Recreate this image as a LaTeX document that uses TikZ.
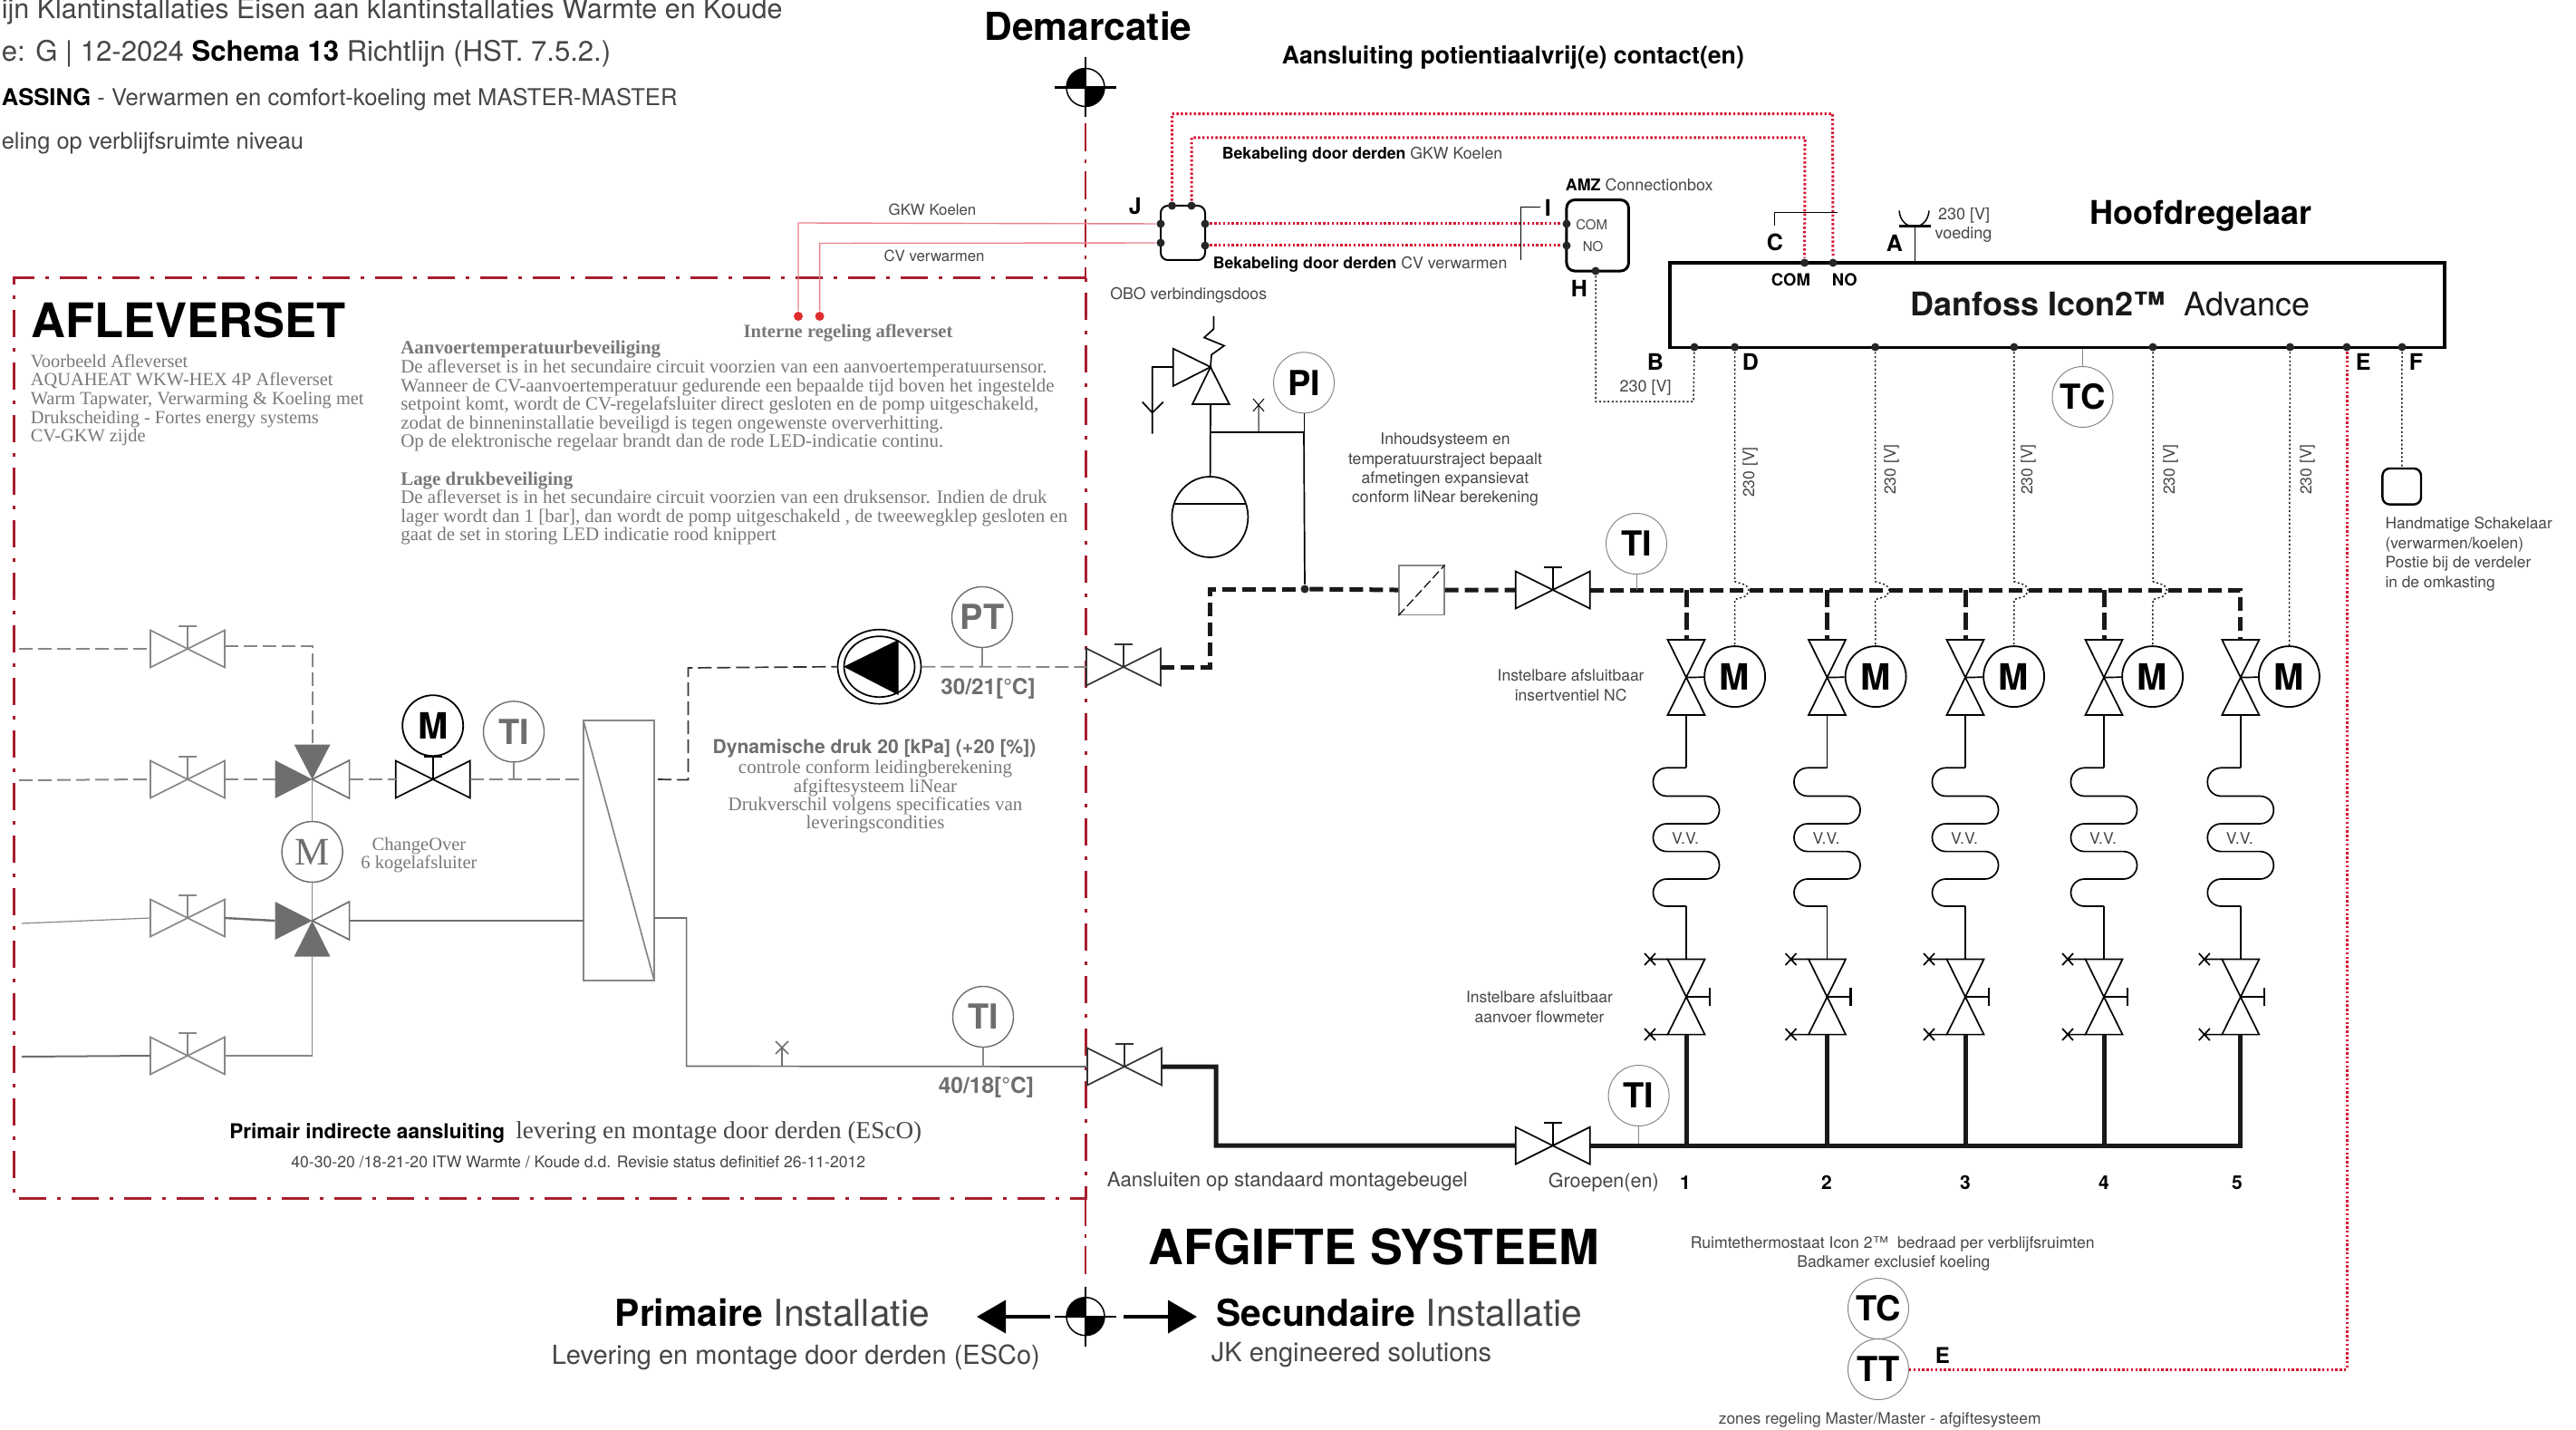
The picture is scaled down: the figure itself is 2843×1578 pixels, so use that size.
\documentclass[tikz,border=0pt]{standalone}
\usepackage{fontspec}
\setmainfont{TeX Gyre Heros}
\newfontfamily\slab{Liberation Serif}
\usepackage{tikz}
\usetikzlibrary{calc}
\usetikzlibrary{positioning}
\usetikzlibrary{arrows.meta}
\usetikzlibrary{shapes.geometric}

\definecolor{afGray}{RGB}{109,110,112}
\definecolor{afLine}{RGB}{135,135,137}
\definecolor{afText}{RGB}{120,120,122}
\definecolor{capText}{RGB}{70,70,72}
\definecolor{demarcRed}{RGB}{166,30,46}
\definecolor{wireRed}{RGB}{214,20,50}
\definecolor{pinkLine}{RGB}{232,130,140}
\definecolor{ledRed}{RGB}{222,45,45}
\newcommand{\fsz}[2]{\fontsize{#1}{#2}\selectfont}

\tikzset{
  valveh/.pic={
    \draw (-41,-20.5) -- (41,20.5) -- (41,-20.5) -- (-41,20.5) -- cycle;
    \draw (0,0) -- (0,-25) (-10,-25) -- (10,-25);
    \coordinate (-w) at (-41,0);
    \coordinate (-e) at (41,0);
  },
  changeover/.pic={
    \fill (-41,-21) -- (0,0) -- (-41,21) -- cycle;
    \draw (41,-21) -- (0,0) -- (41,21) -- cycle;
    \coordinate (-w) at (-41,0);
    \coordinate (-e) at (41,0);
  },
  demarc/.pic={
    \begin{scope}
      \clip (0,0) circle (21pt);
      \fill (-21,-21) rectangle (0,0);
      \fill (0,0) rectangle (21,21);
    \end{scope}
    \draw[line width=1.5pt] (0,0) circle (21pt);
    \draw[line width=1.2pt] (0,-33) -- (0,33);
    \draw[line width=2.4pt] (-34,0) -- (34,0);
    \coordinate (-n) at (0,-40);
    \coordinate (-s) at (0,40);
  },
  groep/.pic={
    \draw (-20.5,706) -- (20.5,706) -- (-20.5,789) -- (20.5,789) -- cycle;
    \node[circle,draw,line width=1.8pt,minimum size=67pt,inner sep=0pt,font=\bfseries\fsz{40}{40}] (-M) at (53.6,746.6) {M};
    \draw (0,747.6) -- (-M);
    \draw (0,789) -- (0,847.3) (0,1000) -- (0,1058.5);
    \draw[rounded corners=15pt] (0,847.3) -- (-36.5,847.3) -- (-36.5,878.5) -- (36.5,878.5) -- (36.5,909)
      -- (-36.5,909) -- (-36.5,939.6) -- (36.5,939.6) -- (36.5,970) -- (-36.5,970) -- (-36.5,1000) -- (0,1000);
    \node[inner sep=0pt,anchor=base,text=capText,font=\fsz{17.5}{18}] (-vv) at (-1,931.7) {V.V.};
    \draw (-20.5,1058.5) -- (20.5,1058.5) -- (-20.5,1141.6) -- (20.5,1141.6) -- cycle;
    \draw[line width=2.2pt] (0,1100) -- (26,1100) (26,1090) -- (26,1110);
    \draw (-20.5,1058.5) -- (-40,1058.5) (-46,1052) -- (-34,1065) (-46,1065) -- (-34,1052);
    \draw (-20.5,1141.6) -- (-40,1141.6) (-46,1135) -- (-34,1148) (-46,1148) -- (-34,1135);
    \coordinate (-top) at (0,706);
    \coordinate (-bot) at (0,1141.6);
  }
}

\newcommand{\kabel}[2]{\draw[wire] (#1) -- (#1 |- 0,641.7) -- ++(12.5,4) -- ++(3,6) -- ++(-3,6) -- ++(-12.5,4) -- (#2);}

\begin{document}
\begin{tikzpicture}[x=1pt,y=-1pt,line width=1.7pt]
  \tikzstyle{lbl}=[inner sep=0pt,anchor=base west,text=capText]
  \tikzstyle{lblc}=[lbl,anchor=base]
  \tikzstyle{lble}=[lbl,anchor=base east]
  \tikzstyle{kop}=[lbl,text=black,font=\bfseries\fsz{25}{25}]
  \tikzstyle{slabtxt}=[lbl,text=afText,align=left,font=\slab\fsz{20.9}{20.6}]
  \tikzstyle{instr}=[circle,draw=afLine,line width=1pt,minimum size=67pt,inner sep=0pt,text=black,font=\bfseries\fsz{38}{38}]
  \tikzstyle{motor}=[circle,draw,line width=1.8pt,minimum size=67pt,inner sep=0pt,font=\bfseries\fsz{40}{40}]
  \tikzstyle{dot}=[circle,fill=black!85,inner sep=0pt,minimum size=9pt]
  \tikzstyle{reddot}=[circle,fill=ledRed,inner sep=0pt,minimum size=10pt]
  \tikzstyle{gdash}=[afLine,line width=2pt,dash pattern=on 15pt off 6pt]
  \tikzstyle{supply}=[black!90,line width=5pt,dash pattern=on 15pt off 7pt]
  \tikzstyle{supplyv}=[black!90,line width=5pt,dash pattern=on 19pt off 6pt]
  \tikzstyle{ret}=[black!90,line width=5pt]
  \tikzstyle{wire}=[line width=1.5pt,black!90,dash pattern=on 2pt off 2.6pt]
  \tikzstyle{redwire}=[line width=3pt,wireRed,dash pattern=on 2.4pt off 2.4pt]
  \tikzstyle{pink}=[line width=1.4pt,pinkLine]
  \tikzstyle{demarcline}=[demarcRed,line width=3pt,dash pattern=on 30pt off 12pt on 4pt off 12pt]
  \tikzstyle{demarcthin}=[demarcRed,line width=2pt,dash pattern=on 31pt off 9pt on 4pt off 9pt]
  \useasboundingbox (0,0) rectangle (2843,1578);

  % header lines
  \node[lbl,font=\fsz{30.5}{30.5}] (hdrA) at (1,21)  {ijn Klantinstallaties Eisen aan klantinstallaties Warmte en Koude};
  \node[lbl,font=\fsz{31.1}{31.1}] (hdrB) at (1,68)  {e: G | 12-2024 {\bfseries\color{black}Schema 13} Richtlijn (HST. 7.5.2.)};
  \node[lbl,font=\fsz{25.6}{25.6}] (hdrC) at (1,117) {{\bfseries\color{black}ASSING} - Verwarmen en comfort-koeling met MASTER-MASTER};
  \node[lbl,font=\fsz{25.4}{25.4}] (hdrD) at (1,165) {eling op verblijfsruimte niveau};

  % demarcation and the set frame
  \pic (dTop) at (1198,96.5) {demarc};
  \pic (dBot) at (1198,1452.7) {demarc};
  \coordinate (boxTL) at (15,307);
  \coordinate (boxTR) at (1198,307);
  \coordinate (boxBL) at (15,1322);
  \coordinate (boxBR) at (1198,1322);
  \draw[demarcthin] (dTop-s) -- (boxTR);
  \draw[demarcline] (boxTR) -- (boxTL) -- (boxBL) -- (boxBR) -- (boxTR);
  \draw[demarcthin] (boxBR) -- (dBot-n);
  \node[lblc,text=black,font=\bfseries\fsz{42.5}{42}] (demarcTxt) at (1201,44.5) {Demarcatie};
  \node[lbl,text=black,font=\bfseries\fsz{26.7}{27}] (aansl) at (1414,71) {Aansluiting potientiaalvrij(e) contact(en)};

  % set texts
  \node[lbl,text=black,font=\bfseries\fsz{52.5}{52.5}] (afl) at (34,372.5) {AFLEVERSET};
  \node[slabtxt,anchor=north west,font=\slab\fsz{20.4}{20.6}] (aflSub) at (33,390) {Voorbeeld Afleverset\\AQUAHEAT WKW-HEX 4P Afleverset\\Warm Tapwater, Verwarming \& Koeling met\\Drukscheiding - Fortes energy systems\\CV-GKW zijde};
  \node[slabtxt,anchor=north west] (prot) at (441.5,375.5) {{\bfseries Aanvoertemperatuurbeveiliging}\\De afleverset is in het secundaire circuit voorzien van een aanvoertemperatuursensor.\\Wanneer de CV-aanvoertemperatuur gedurende een bepaalde tijd boven het ingestelde\\setpoint komt, wordt de CV-regelafsluiter direct gesloten en de pomp uitgeschakeld,\\zodat de binneninstallatie beveiligd is tegen ongewenste oververhitting.\\Op de elektronische regelaar brandt dan de rode LED-indicatie continu.\\[20.6pt]{\bfseries Lage drukbeveiliging}\\De afleverset is in het secundaire circuit voorzien van een druksensor. Indien de druk\\lager wordt dan 1 [bar], dan wordt de pomp uitgeschakeld , de tweewegklep gesloten en\\gaat de set in storing LED indicatie rood knippert};
  \node[lblc,text=afText,font=\slab\bfseries\fsz{20.6}{20.6}] (intern) at (936,372.5) {Interne regeling afleverset};
  \node[reddot] (rGkw) at (881,349) {};
  \node[reddot] (rCv)  at (904.6,349) {};

  % left side of the set, grey
  \begin{scope}[afLine]
    \pic (v1) at (207,716)  {valveh};
    \pic (v2) at (207,860)  {valveh};
    \pic (v3) at (207,1013) {valveh};
    \pic (v4) at (207,1165) {valveh};
  \end{scope}
  \begin{scope}[afGray]
    \pic (co1) at (344.6,860)  {changeover};
    \pic (co2) at (344.6,1016) {changeover};
    \fill (344.6,860) -- ++(-20,-38.5) -- ++(40,0) -- cycle;
    \fill (344.6,1016) -- ++(-20,39.7) -- ++(40,0) -- cycle;
  \end{scope}
  \coordinate (in1) at (21,716);
  \coordinate (in2) at (21,861);
  \coordinate (in3) at (24,1019);
  \coordinate (in4) at (24,1166);
  \draw[gdash] (in1) -- (v1-w);
  \draw[gdash] (v1-e) ++(0,-3.5) -- (344.6,712.5) -- (344.6,821);
  \draw[gdash] (in2) -- (v2-w);
  \draw[gdash] (v2-e) -- (co1-w);
  \draw[afLine,line width=1.2pt] (in3) -- (v3-w);
  \draw[afGray,line width=2.4pt] (v3-e) -- (co2-w);
  \draw[afGray,line width=2pt] (in4) -- (v4-w);
  \draw[afLine] (v4-e) -- (344.6,1165) -- (344.6,1055);
  \node[circle,draw=afGray,line width=1.5pt,minimum size=67pt,inner sep=0pt,text=afGray,font=\slab\fsz{43}{43}] (mco) at (344.6,940) {M};
  \draw[afLine] (co1-e -| mco) -- (mco) -- (co2-e -| mco);
  \node[lblc,text=afText,font=\slab\fsz{20.5}{20.5}] (coA) at (462.5,938) {ChangeOver};
  \node[lblc,text=afText,font=\slab\fsz{20.5}{20.5}] (coB) at (462.5,958) {6 kogelafsluiter};
  \pic (vm) at (477.7,860) {valveh};
  \node[motor,fill=white] (mvm) at (477.7,800.7) {M};
  \draw[line width=2pt] (mvm) -- (vm-e -| mvm);
  \node[instr,draw=afGray,text=afGray,line width=1.4pt] (tiL) at (567,807.4) {TI};
  \coordinate (hexTL) at (643.8,795);
  \coordinate (hexBR) at (722,1082);
  \draw[afLine] (hexTL) rectangle (hexBR);
  \draw[afLine] (hexTL) -- (hexBR);
  \draw[gdash] (co1-e) -- (vm-w);
  \draw[gdash] (vm-e) -- (hexTL |- vm-e);
  \draw[afLine,line width=1.4pt] (tiL) -- (tiL |- vm-e);
  \draw[afGray] (co2-e) -- (hexTL |- co2-e);

  % secondary side inside the frame
  \node[draw,ellipse,minimum width=92pt,minimum height=82pt,inner sep=0pt] (pump) at (970.5,735.7) {};
  \node[draw,ellipse,minimum width=78pt,minimum height=67pt,inner sep=0pt] (pumpIn) at (970.5,735.7) {};
  \fill (931,735.7) -- (991.5,706) -- (991.5,767) -- cycle;
  \draw[line width=1.7pt,dash pattern=on 15pt off 6pt,black!80] (hexBR |- vm-e) ++(4,0) -- (759.4,860.6) -- (759.4,737) -- (pump.west);
  \pic[black!80] (vA) at (1240,736) {valveh};
  \draw[gdash,line width=1.7pt] (pump.east) -- (vA-w);
  \node[instr,draw=afGray,text=afGray,line width=1.4pt] (ptL) at (1084,681) {PT};
  \draw[afLine,line width=1.4pt] (ptL) -- (ptL |- vA-w);
  \node[lbl,text=afGray,font=\bfseries\fsz{24.3}{25}] (t3021) at (1037.5,766) {30/21[°C]};
  \node[lblc,text=afGray,font=\bfseries\fsz{21.1}{22}] (dynA) at (965,831) {Dynamische druk 20 [kPa] (+20 [\%])};
  \node[slabtxt,anchor=north,align=center,font=\slab\fsz{21}{20.4}] (dynB) at (966,838) {controle conform leidingberekening\\afgiftesysteem liNear\\Drukverschil volgens specificaties van\\leveringscondities};
  \pic[black!80] (vB) at (1241,1177) {valveh};
  \draw[afGray] (hexBR |- 0,1013) -- (757.6,1013) -- (757.6,1176.5) -- (vB-w);
  \draw[afGray] (863,1176.5) -- (863,1156) (856,1149) -- (870,1163) (856,1163) -- (870,1149);
  \node[instr,draw=afGray,text=afGray,line width=1.4pt] (tiR) at (1085,1122) {TI};
  \draw[afLine,line width=1.4pt] (tiR) -- (tiR |- vB-w);
  \node[lbl,text=afGray,font=\bfseries\fsz{24.5}{25}] (t4018) at (1035,1206) {40/18[°C]};
  \node[lble,text=capText,font=\slab\fsz{27.2}{27}] (prim) at (1018,1256) {{\fontspec{TeX Gyre Heros}\bfseries\fsz{22.6}{26}\color{black}Primair indirecte aansluiting}\hspace{12pt}levering en montage door derden (EScO)};
  \node[lble,font=\fsz{17.6}{18}] (revisie) at (956,1288) {40-30-20 /18-21-20 ITW Warmte / Koude d.d. Revisie status definitief 26-11-2012};

  % connection box and cabling
  \node[draw,rounded corners=8pt,line width=2pt,minimum width=49pt,minimum height=60pt,inner sep=0pt] (jbox) at (1305.5,257) {};
  \node[draw,rounded corners=9pt,line width=3pt,minimum width=68.5pt,minimum height=78.5pt,inner sep=0pt] (amz) at (1763.2,259.8) {};
  \node[dot] (jA) at (1293.5,227) {};
  \node[dot] (jB) at (1315,227) {};
  \node[dot] (jL1) at (1281,247) {};
  \node[dot] (jL2) at (1281,268) {};
  \node[dot] (jR1) at (1330,247) {};
  \node[dot] (jR2) at (1330,271) {};
  \node[dot] (aC) at (1729,247) {};
  \node[dot] (aN) at (1729,271) {};
  \node[dot] (aH) at (1761,299) {};
  \node[draw,line width=3.2pt,minimum width=855pt,minimum height=93.5pt,inner sep=0pt] (icon) at (2270.5,336.7) {};
  \node[dot] (dCom) at (1991.6,290) {};
  \node[dot] (dNo)  at (2023,290) {};
  \draw[redwire] (jA) -- (1293.5,125.7) -- (2022.6,125.7) -- (dNo);
  \draw[redwire] (jB) -- (1315,152) -- (1992,152) -- (dCom);
  \draw[redwire] (jR1) -- (aC);
  \draw[redwire] (jR2) -- (aN);
  \draw[pink] (jL1) -- (881,246) -- (rGkw);
  \draw[pink] (jL2) -- (904.6,268.5) -- (rCv);
  \node[lblc,font=\fsz{16.8}{17}] (gkw) at (1029,238) {GKW Koelen};
  \node[lblc,font=\fsz{16.8}{17}] (cv)  at (1031,288.6) {CV verwarmen};
  \node[lbl,font=\fsz{17.7}{19}] (bekA) at (1348,176) {{\bfseries\color{black}Bekabeling door derden} GKW Koelen};
  \node[lbl,font=\fsz{17.7}{19}] (bekB) at (1338,296.5) {{\bfseries\color{black}Bekabeling door derden} CV verwarmen};
  \node[lbl,font=\fsz{17.9}{19}] (amzT) at (1727,211) {{\bfseries\color{black}AMZ} Connectionbox};
  \node[lbl,font=\fsz{15}{15}] (amzC) at (1738.4,254) {COM};
  \node[lbl,font=\fsz{15}{15}] (amzN) at (1746,278) {NO};
  \node[lbl,font=\fsz{17.7}{18}] (obo) at (1224.6,331) {OBO verbindingsdoos};
  \node[kop] (tJ) at (1245,236.5) {J};
  \node[kop] (tI) at (1704,238.4) {I};
  \draw[line width=1pt] (tI.west |- 0,228.5) ++(-4,0) -- (1678.7,228.5) -- (1678.7,286.7);
  \node[kop] (tH) at (1733,328) {H};
  \node[kop] (tC) at (1949,277) {C};
  \draw[line width=1pt] (1958,249) -- (1958,235) -- (2028,235);
  \node[kop] (tA) at (2081,278) {A};
  \node[kop] (tB) at (1817,408) {B};
  \node[kop] (tD) at (1922,408) {D};
  \node[kop] (tE) at (2599,408.4) {E};
  \node[kop] (tF) at (2658,408) {F};
  \node[lbl,text=black,font=\bfseries\fsz{18.5}{19}] (tCom) at (1954,316) {COM};
  \node[lbl,text=black,font=\bfseries\fsz{18.5}{19}] (tNo)  at (2021,316) {NO};
  \node[lblc,font=\fsz{18}{18}] (vA230) at (1816,432) {230 [V]};
  \node[lblc,font=\fsz{18}{18}] (vS230) at (2167.5,243) {230 [V]};
  \node[lblc,font=\fsz{18}{18}] (vSt)   at (2167,264) {voeding};
  \draw[line width=1.2pt] (2113.4,290) -- (2113.4,250);
  \draw[line width=3pt] (2096,250) -- (2131,250);
  \draw[line width=1.5pt] (2096,232.5) .. controls (2098,256) and (2127,256) .. (2129,232.5);
  \node[lbl,text=black,font=\bfseries\fsz{36}{36}] (hoofd) at (2306,247.5) {Hoofdregelaar};
  \node[lbl,text=black!90,font=\fsz{36}{36}] (danfoss) at (2108,349) {{\bfseries Danfoss Icon2™}\hspace{20pt}Advance};

  % fill side
  \coordinate (svTip) at (1336,405);
  \draw (svTip) -- (1294.7,384.7) -- (1294.7,426) -- cycle;
  \draw (svTip) -- (1316,446) -- (1356.7,446) -- cycle;
  \draw (svTip) -- (1337,391.5) -- (1351,381.5) -- (1329,372.5) -- (1339.5,363) -- (1339.5,349);
  \draw (1294.7,405) -- (1271.7,405) -- (1271.7,478.5) (1260.8,443.6) -- (1271.7,455.5) -- (1283.8,443.6);
  \node[draw,ellipse,minimum width=84pt,minimum height=89pt,inner sep=0pt] (vessel) at (1335.4,570.5) {};
  \draw (1295.6,556.3) -- (1375,556.3);
  \draw (1336,446) -- (vessel);
  \node[instr] (pi) at (1439,422.3) {PI};
  \node[dot] (dPipe) at (1440,650) {};
  \draw (1336,477) -- (1439,477) -- (dPipe);
  \draw[line width=1pt] (pi) -- (1439,477);
  \draw[line width=1pt] (1389,477) -- (1389,447) (1383,440) -- (1395,454) (1383,454) -- (1395,440);
  \node[lblc,align=center,anchor=north,font=\fsz{17.6}{21.4}] (inhoud) at (1595,477) {Inhoudsysteem en\\temperatuurstraject bepaalt\\afmetingen expansievat\\conform liNear berekening};

  % manifold
  \node[draw=afLine,line width=1.3pt,minimum width=50pt,minimum height=54.6pt,inner sep=0pt] (filter) at (1569,651.3) {};
  \draw[line width=1.2pt,dash pattern=on 10pt off 4pt] (filter.south west) -- (filter.north east);
  \pic (vD) at (1713.7,651) {valveh};
  \pic (vE) at (1713.7,1264.2) {valveh};
  \node[instr] (tiA) at (1806,600) {TI};
  \node[instr] (tiB) at (1808.6,1209) {TI};
  \pic (g1) at (1861,0)   {groep};
  \pic (g2) at (2016.5,0) {groep};
  \pic (g3) at (2169,0)   {groep};
  \pic (g4) at (2322,0)   {groep};
  \pic (g5) at (2472.8,0) {groep};
  \draw[supply] (vA-e) -- (1335,736) -- (1335,650) -- (dPipe);
  \draw[supply] (dPipe) -- (filter);
  \draw[supply] (filter) -- (vD-w);
  \draw[supply] (vD-e) -- (g5-top |- vD-e) -- (g5-top);
  \draw[supplyv] (g1-top |- vD-e) -- (g1-top);
  \draw[supplyv] (g2-top |- vD-e) -- (g2-top);
  \draw[supplyv] (g3-top |- vD-e) -- (g3-top);
  \draw[supplyv] (g4-top |- vD-e) -- (g4-top);
  \draw[line width=1pt,afLine] (tiA) -- (tiA |- vD-e);
  \draw[line width=1pt,afLine] (tiB) -- (tiB |- vE-e);
  \draw[ret] (vB-e) -- (1342,1177) -- (1342,1264) -- (vE-w);
  \draw[ret] (vE-e) -- (g5-top |- vE-e) -- (g5-bot);
  \draw[ret] (g1-bot) -- (g1-bot |- vE-e);
  \draw[ret] (g2-bot) -- (g2-bot |- vE-e);
  \draw[ret] (g3-bot) -- (g3-bot |- vE-e);
  \draw[ret] (g4-bot) -- (g4-bot |- vE-e);

  % controller outputs
  \node[dot] (oB) at (1870,383) {};
  \node[dot] (oD) at (1914.6,383) {};
  \node[dot] (oG2) at (2069.6,383) {};
  \node[dot] (oG3) at (2222.8,383) {};
  \node[dot] (oG4) at (2376,383) {};
  \node[dot] (oG5) at (2527.4,383) {};
  \node[dot] (oF) at (2651,383) {};
  \node[dot] (oE) at (2590,383) {};
  \draw[wire] (aH) -- (1761,443) -- (1869,443) -- (oB);
  \kabel{oD}{g1-M}
  \kabel{oG2}{g2-M}
  \kabel{oG3}{g3-M}
  \kabel{oG4}{g4-M}
  \draw[wire] (oG5) -- (g5-M);
  \node[lblc,rotate=90,font=\fsz{17.5}{18}] (w1) at (1936,521) {230 [V]};
  \node[lblc,rotate=90,font=\fsz{17.5}{18}] (w2) at (2092,518) {230 [V]};
  \node[lblc,rotate=90,font=\fsz{17.5}{18}] (w3) at (2243,518) {230 [V]};
  \node[lblc,rotate=90,font=\fsz{17.5}{18}] (w4) at (2400,518) {230 [V]};
  \node[lblc,rotate=90,font=\fsz{17.5}{18}] (w5) at (2551,518) {230 [V]};
  \node[instr] (tcTop) at (2298.5,438) {TC};
  \draw[line width=1pt,afLine] (tcTop) -- (tcTop |- icon.south);
  \node[draw,rounded corners=8pt,line width=2.4pt,minimum width=42.6pt,minimum height=39.7pt,inner sep=0pt] (sw) at (2650.7,536.8) {};
  \draw[wire] (oF) -- (sw);
  \node[lbl,align=left,anchor=north west,font=\fsz{17.3}{21.6}] (swT) at (2631.7,570) {Handmatige Schakelaar\\(verwarmen/koelen)\\Postie bij de verdeler\\in de omkasting};

  % room thermostat
  \node[instr] (tcB) at (2073,1444) {TC};
  \node[instr] (ttB) at (2073,1511) {TT};
  \draw[redwire] (oE) -- (2590,1511) -- (ttB);
  \node[kop,font=\bfseries\fsz{24}{24}] (tE2) at (2135,1504) {E};
  \node[lbl,font=\fsz{17.6}{18}] (rtA) at (1865,1377) {Ruimtethermostaat Icon 2™\hspace{10pt}bedraad per verblijfsruimten};
  \node[lbl,font=\fsz{17.6}{18}] (rtB) at (1982.5,1398) {Badkamer exclusief koeling};
  \node[lbl,font=\fsz{17.4}{18}] (rtC) at (1896,1571.7) {zones regeling Master/Master - afgiftesysteem};

  % manifold texts
  \node[lblc,align=center,anchor=north,font=\fsz{17.5}{22}] (insA) at (1733.6,738) {Instelbare afsluitbaar\\insertventiel NC};
  \node[lblc,align=center,anchor=north,font=\fsz{17.5}{22}] (insB) at (1699,1093) {Instelbare afsluitbaar\\aanvoer flowmeter};
  \node[lbl,font=\fsz{22.2}{23}] (montage) at (1221,1309.6) {Aansluiten op standaard montagebeugel};
  \node[lbl,font=\fsz{21.5}{23}] (groepen) at (1708,1310) {Groepen(en)};
  \node[lblc,text=black,font=\bfseries\fsz{21}{21}] (nr1) at (1860,1312) {1};
  \node[lblc,text=black,font=\bfseries\fsz{21}{21}] (nr2) at (2016,1312) {2};
  \node[lblc,text=black,font=\bfseries\fsz{21}{21}] (nr3) at (2169,1312) {3};
  \node[lblc,text=black,font=\bfseries\fsz{21}{21}] (nr4) at (2322,1312) {4};
  \node[lblc,text=black,font=\bfseries\fsz{21}{21}] (nr5) at (2469,1312) {5};

  % bottom titles
  \node[lbl,text=black,font=\bfseries\fsz{53.7}{54}] (afgifte) at (1267,1395) {AFGIFTE SYSTEEM};
  \node[lbl,font=\fsz{40.8}{41}] (primT) at (678,1463) {{\bfseries\color{black}Primaire} Installatie};
  \node[lbl,font=\fsz{40.8}{41}] (secT) at (1341.6,1463) {{\bfseries\color{black}Secundaire} Installatie};
  \node[lbl,font=\fsz{29}{29}] (primS) at (608,1505) {Levering en montage door derden (ESCo)};
  \node[lbl,font=\fsz{29}{29}] (secS) at (1336,1502.7) {JK engineered solutions};
  \coordinate (arrowL) at (1159,1453);
  \coordinate (arrowLtip) at (1078,1453);
  \coordinate (arrowR) at (1240,1453);
  \coordinate (arrowRtip) at (1321,1453);
  \draw[-{Triangle[length=32pt,width=36pt]},line width=4pt] (arrowL) -- (arrowLtip);
  \draw[-{Triangle[length=32pt,width=36pt]},line width=4pt] (arrowR) -- (arrowRtip);
\end{tikzpicture}
\end{document}
